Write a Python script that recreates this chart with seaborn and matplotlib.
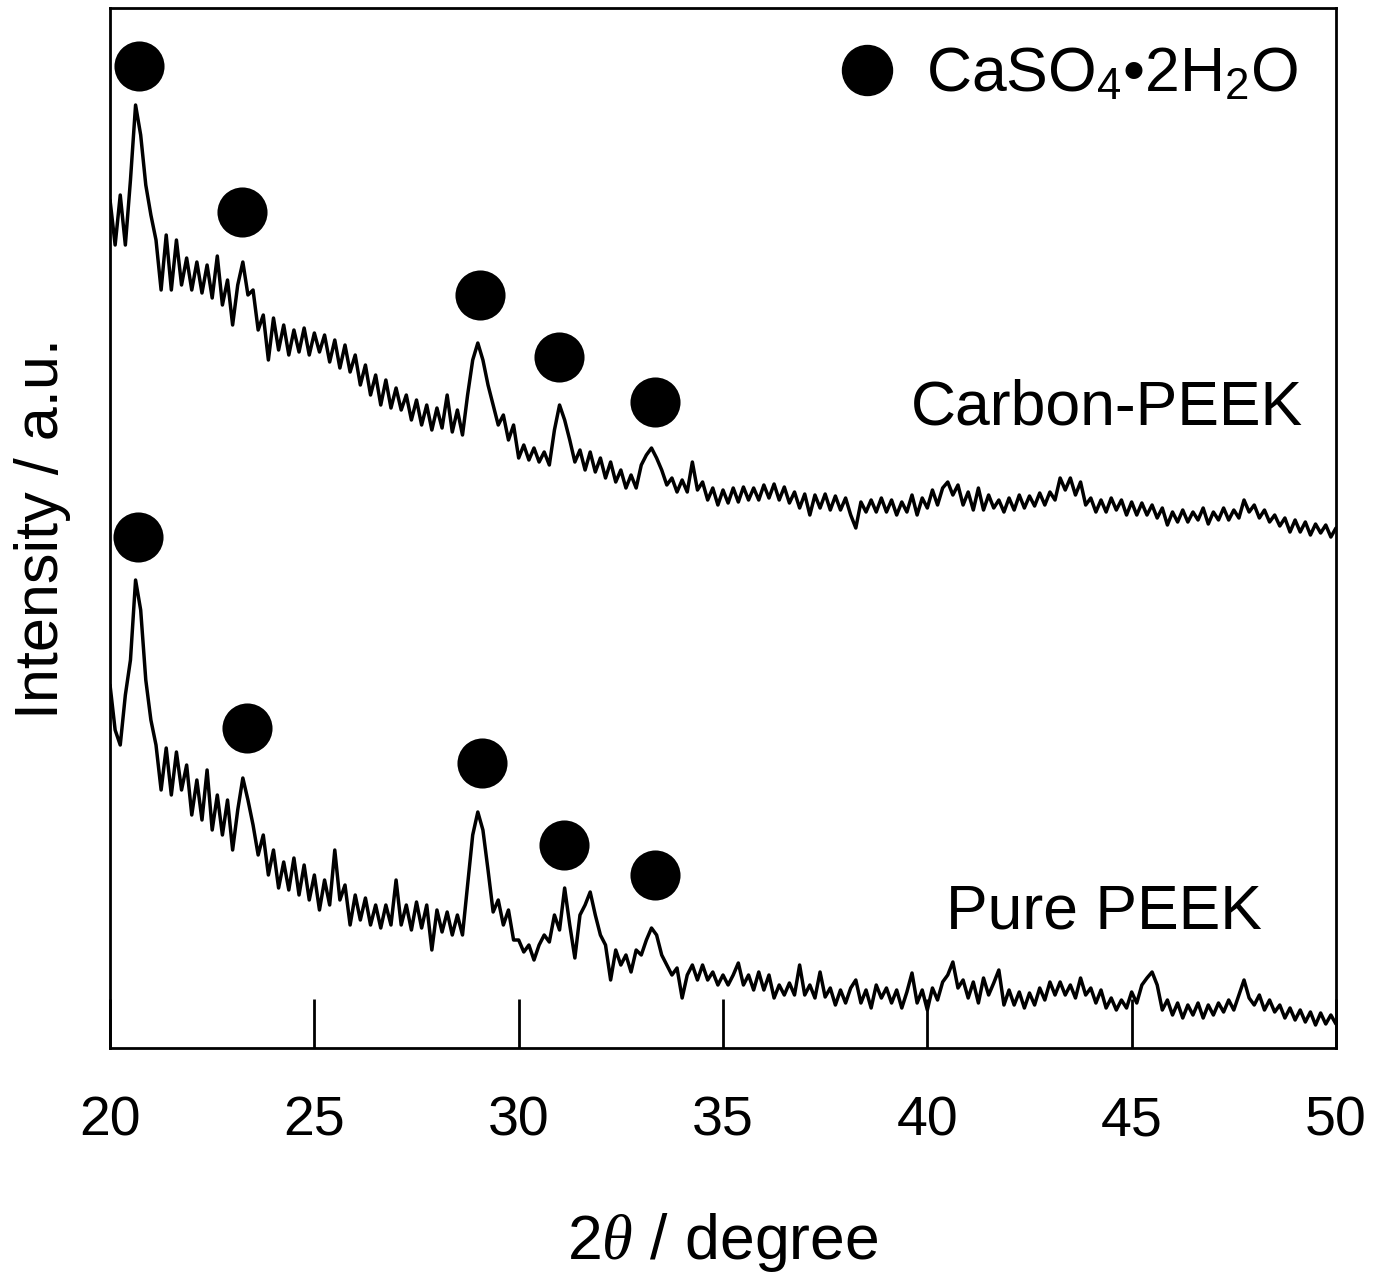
import matplotlib

matplotlib.use("Agg")

import matplotlib.pyplot as plt
import seaborn as sns
from matplotlib.lines import Line2D

# scan grid, 2theta in degree (step 0.125)
TWO_THETA = [
    20.0, 20.125, 20.25, 20.375, 20.5, 20.625, 20.75, 20.875,
    21.0, 21.125, 21.25, 21.375, 21.5, 21.625, 21.75, 21.875,
    22.0, 22.125, 22.25, 22.375, 22.5, 22.625, 22.75, 22.875,
    23.0, 23.125, 23.25, 23.375, 23.5, 23.625, 23.75, 23.875,
    24.0, 24.125, 24.25, 24.375, 24.5, 24.625, 24.75, 24.875,
    25.0, 25.125, 25.25, 25.375, 25.5, 25.625, 25.75, 25.875,
    26.0, 26.125, 26.25, 26.375, 26.5, 26.625, 26.75, 26.875,
    27.0, 27.125, 27.25, 27.375, 27.5, 27.625, 27.75, 27.875,
    28.0, 28.125, 28.25, 28.375, 28.5, 28.625, 28.75, 28.875,
    29.0, 29.125, 29.25, 29.375, 29.5, 29.625, 29.75, 29.875,
    30.0, 30.125, 30.25, 30.375, 30.5, 30.625, 30.75, 30.875,
    31.0, 31.125, 31.25, 31.375, 31.5, 31.625, 31.75, 31.875,
    32.0, 32.125, 32.25, 32.375, 32.5, 32.625, 32.75, 32.875,
    33.0, 33.125, 33.25, 33.375, 33.5, 33.625, 33.75, 33.875,
    34.0, 34.125, 34.25, 34.375, 34.5, 34.625, 34.75, 34.875,
    35.0, 35.125, 35.25, 35.375, 35.5, 35.625, 35.75, 35.875,
    36.0, 36.125, 36.25, 36.375, 36.5, 36.625, 36.75, 36.875,
    37.0, 37.125, 37.25, 37.375, 37.5, 37.625, 37.75, 37.875,
    38.0, 38.125, 38.25, 38.375, 38.5, 38.625, 38.75, 38.875,
    39.0, 39.125, 39.25, 39.375, 39.5, 39.625, 39.75, 39.875,
    40.0, 40.125, 40.25, 40.375, 40.5, 40.625, 40.75, 40.875,
    41.0, 41.125, 41.25, 41.375, 41.5, 41.625, 41.75, 41.875,
    42.0, 42.125, 42.25, 42.375, 42.5, 42.625, 42.75, 42.875,
    43.0, 43.125, 43.25, 43.375, 43.5, 43.625, 43.75, 43.875,
    44.0, 44.125, 44.25, 44.375, 44.5, 44.625, 44.75, 44.875,
    45.0, 45.125, 45.25, 45.375, 45.5, 45.625, 45.75, 45.875,
    46.0, 46.125, 46.25, 46.375, 46.5, 46.625, 46.75, 46.875,
    47.0, 47.125, 47.25, 47.375, 47.5, 47.625, 47.75, 47.875,
    48.0, 48.125, 48.25, 48.375, 48.5, 48.625, 48.75, 48.875,
    49.0, 49.125, 49.25, 49.375, 49.5, 49.625, 49.75, 49.875,
    50.0,
]

# intensities (a.u., offset already included)
CARBON_PEEK = [
    848, 803, 853, 803, 868, 943, 913, 863, 833,
    808, 758, 813, 758, 808, 763, 790, 758,
    786, 755, 783, 750, 792, 743, 768, 723,
    763, 786, 753, 758, 718, 733, 688, 730,
    698, 723, 693, 718, 696, 720, 693, 715,
    696, 713, 686, 708, 680, 703, 676, 693,
    663, 683, 653, 673, 643, 668, 640, 660,
    638, 653, 628, 648, 623, 643, 618, 640,
    620, 653, 616, 638, 613, 653, 688, 705,
    688, 663, 643, 623, 633, 608, 623, 590,
    603, 588, 600, 586, 596, 583, 618, 643,
    628, 608, 586, 598, 578, 596, 576, 590,
    570, 586, 566, 578, 560, 573, 560, 583,
    593, 600, 590, 578, 563, 570, 556, 568,
    556, 586, 558, 566, 548, 560, 543, 558,
    545, 560, 546, 561, 548, 560, 548, 563,
    550, 564, 548, 561, 545, 556, 540, 554,
    533, 553, 540, 554, 538, 552, 538, 550,
    533, 520, 546, 536, 548, 536, 550, 536,
    548, 533, 546, 536, 553, 533, 550, 540,
    558, 543, 560, 566, 553, 563, 543, 556,
    538, 560, 538, 553, 540, 548, 536, 550,
    538, 553, 540, 552, 542, 555, 543, 556,
    548, 570, 558, 570, 553, 566, 543, 550,
    536, 548, 536, 550, 538, 548, 533, 546,
    533, 545, 533, 543, 530, 540, 523, 536,
    526, 538, 526, 536, 528, 540, 524, 536,
    528, 540, 528, 538, 530, 548, 536, 543,
    530, 538, 526, 533, 522, 530, 516, 528,
    516, 526, 513, 524, 515, 523, 511, 520,
]

PURE_PEEK = [
    363, 318, 303, 353, 388, 468, 438, 368, 328,
    303, 258, 300, 253, 296, 258, 283, 233,
    268, 228, 278, 218, 253, 213, 248, 198,
    238, 270, 248, 223, 193, 213, 173, 198,
    160, 186, 158, 190, 153, 183, 148, 173,
    138, 168, 143, 198, 148, 163, 123, 153,
    128, 150, 123, 143, 120, 143, 123, 168,
    123, 143, 118, 146, 120, 143, 98, 138,
    116, 136, 113, 133, 113, 163, 213, 236,
    218, 178, 136, 148, 123, 138, 108, 108,
    96, 103, 88, 103, 113, 106, 133, 118,
    160, 123, 90, 133, 143, 156, 133, 113,
    103, 68, 98, 83, 93, 76, 98, 93,
    108, 120, 113, 93, 83, 73, 80, 50,
    73, 83, 68, 83, 68, 76, 63, 73,
    63, 73, 85, 63, 73, 58, 76, 58,
    73, 50, 63, 53, 65, 53, 83, 53,
    63, 50, 76, 51, 60, 43, 58, 45,
    60, 68, 45, 58, 40, 63, 50, 60,
    45, 58, 40, 56, 75, 45, 58, 38,
    60, 48, 66, 73, 86, 60, 68, 50,
    66, 45, 70, 53, 65, 78, 43, 58,
    43, 56, 40, 55, 43, 60, 48, 66,
    53, 66, 53, 63, 50, 70, 53, 60,
    45, 58, 40, 50, 38, 48, 40, 56,
    45, 63, 70, 76, 63, 38, 48, 33,
    45, 30, 43, 33, 45, 30, 43, 33,
    45, 36, 48, 38, 53, 68, 50, 43,
    53, 38, 48, 36, 43, 30, 40, 28,
    38, 26, 36, 23, 35, 24, 33, 24,
]

# CaSO4.2H2O reflections marked above each pattern
MARK_2THETA_CARBON = [20.71, 23.23, 29.05, 30.99, 33.33]
MARK_I_CARBON = [982, 836, 753, 691, 646]
MARK_2THETA_PURE = [20.68, 23.35, 29.10, 31.11, 33.33]
MARK_I_PURE = [511, 320, 285, 203, 173]

SAMPLE_LABELS = ["Carbon-PEEK", "Pure PEEK"]
LEGEND_LABEL = "CaSO$_4$\u20222H$_2$O"
X_TICKS = [20, 25, 30, 35, 40, 45, 50]

assert len(TWO_THETA) == len(CARBON_PEEK) == len(PURE_PEEK)

sns.set_style("ticks")
plt.rcParams["font.family"] = ["Liberation Sans", "DejaVu Sans"]
plt.rcParams["mathtext.fontset"] = "custom"
plt.rcParams["mathtext.rm"] = "Liberation Sans"
plt.rcParams["mathtext.it"] = "Liberation Serif:italic"
plt.rcParams["text.color"] = "black"
plt.rcParams["axes.labelcolor"] = "black"

fig, ax = plt.subplots(figsize=(13.84, 12.72), dpi=100)
fig.subplots_adjust(left=0.0795, right=0.9653, bottom=0.1761, top=0.9937)

sns.lineplot(x=TWO_THETA, y=CARBON_PEEK, ax=ax, color="black", linewidth=2.5, sort=False)
sns.lineplot(x=TWO_THETA, y=PURE_PEEK, ax=ax, color="black", linewidth=2.5, sort=False)

sns.scatterplot(x=MARK_2THETA_CARBON, y=MARK_I_CARBON, ax=ax, color="black", s=1300, linewidth=0)
sns.scatterplot(x=MARK_2THETA_PURE, y=MARK_I_PURE, ax=ax, color="black", s=1300, linewidth=0)

ax.text(49.19, 640, SAMPLE_LABELS[0], ha="right", va="center", fontsize=45)
ax.text(48.19, 136, SAMPLE_LABELS[1], ha="right", va="center", fontsize=45)

handle = Line2D([], [], ls="", marker="o", markersize=36, color="black")
ax.legend(
    [handle],
    [LEGEND_LABEL],
    loc="upper right",
    frameon=False,
    fontsize=45,
    handlelength=1.0,
    handletextpad=0.45,
    borderpad=0,
    borderaxespad=0.6,
)

ax.set_xlim(20, 50)
ax.set_ylim(0, 1040)
ax.set_xticks(X_TICKS)
ax.set_yticks([])
ax.tick_params(axis="x", direction="in", length=35, width=2, pad=34, labelsize=40, colors="black")
for spine in ax.spines.values():
    spine.set_linewidth(2)
    spine.set_color("black")

ax.set_xlabel("2$\\theta$ / degree", fontsize=45, labelpad=46)
ax.set_ylabel("Intensity / a.u.", fontsize=44, labelpad=28)

fig.savefig("out.png", dpi=100)
plt.close(fig)
